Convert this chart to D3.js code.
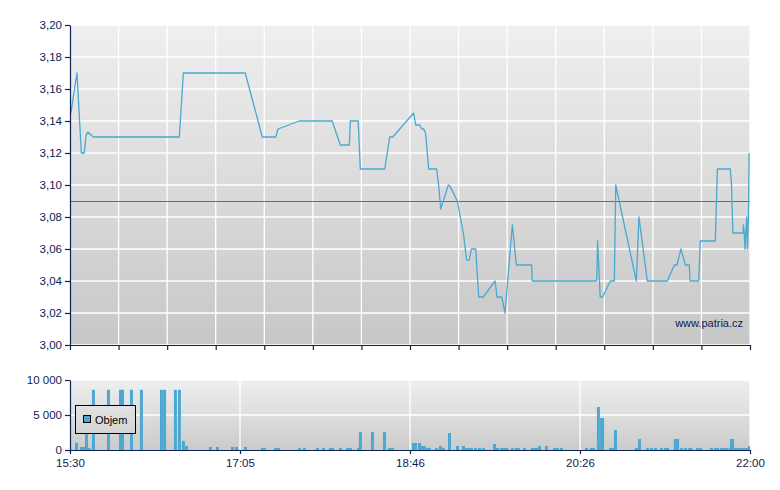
<!DOCTYPE html>
<html><head><meta charset="utf-8">
<script src="https://cdn.jsdelivr.net/npm/d3@7"></script>
<style>
body{margin:0;background:#fff}
svg{display:block;font-family:"Liberation Sans",Arial,sans-serif}
</style>
</head><body><div id="chart"></div>
<script>
// ---- data (time in minutes after 15:30) ----
const priceMinutes = [0.5,4,6.5,8.2,9.2,10.3,13.4,62.7,65,100.5,110.3,118,119.3,131.5,150.4,155,160.2,160.8,165.3,166.5,180.5,183.4,185.1,197.1,198.3,200.6,201.7,202.9,204,205.7,210.3,211.5,212.6,217,218.1,222.1,225.6,227.5,229,230.2,232.7,234.4,237,243.8,244.9,247.6,249.5,253.7,256,264.8,265.1,302.1,302.6,304.1,305.5,309.9,312.2,313,324.8,326.3,331.1,342.6,346.6,348.1,350.4,352.9,355.2,355.6,360.6,361.5,370.1,371.3,378.7,379.4,380.2,386,386.2,386.7,387.1,388.1,388.5,389.1,389.5];
const priceValues = [3.145,3.17,3.12,3.12,3.131,3.133,3.13,3.13,3.17,3.17,3.13,3.13,3.135,3.14,3.14,3.125,3.125,3.14,3.14,3.11,3.11,3.13,3.13,3.145,3.1375,3.1375,3.135,3.135,3.132,3.11,3.11,3.099,3.085,3.10,3.099,3.09,3.07,3.053,3.053,3.06,3.06,3.03,3.03,3.04,3.03,3.03,3.02,3.075,3.05,3.05,3.04,3.04,3.065,3.03,3.03,3.04,3.04,3.10,3.04,3.08,3.04,3.04,3.05,3.05,3.06,3.05,3.05,3.04,3.04,3.065,3.065,3.11,3.11,3.10,3.07,3.07,3.075,3.07,3.06,3.08,3.06,3.08,3.12];
const refPrice = 3.09;

const volumeMinutes = [2.9,5.7,6.9,8.6,10.1,12.6,21.2,28.1,29.3,34.4,40.1,51.6,53.4,59.6,61.9,64.2,66,79.7,83.7,92.3,94.6,99.8,
 109.5,110.7,117,118.7,130.8,133.6,141.1,144.5,148.5,149.7,154.3,158.3,160,164.6,165.7,172.6,179.5,182.4,184.1,196.1,197.3,199.6,201.3,202.4,204.2,205.3,
 209.3,211.6,213.3,216.8,221.4,224.8,226.5,228.2,229.4,231.7,234,236.3,242.6,244.3,246.6,248.3,249.6,252.9,255.2,256.3,259.8,264.4,266.1,267.2,268.4,272.4,277,278.7,281,295.4,
 298.2,299.5,302.2,304,304.6,309.1,310.3,312,324,325.8,330.3,332.6,334.9,338.4,340.7,341.8,346.3,347.6,349.9,352.2,354.5,355.3,359.1,360.9,367,369.3,370.6,372.9,374.6,375.8,377.9,378.5,379.1,380.8,382.5,384.2,385.9,387.2,388.9];
const volumeValues = [1050,430,430,3290,290,8600,8600,8600,8600,8600,8600,8600,8600,8600,8600,1290,570,430,430,430,430,430,
 290,290,290,290,290,290,290,290,290,290,290,290,290,290,2570,2570,2570,290,290,1000,1000,1000,570,570,290,290,
 290,570,290,2430,570,570,290,290,290,290,290,290,860,290,290,290,290,290,290,290,290,290,290,290,570,570,290,290,290,290,
 290,290,6140,4570,4570,290,290,2860,290,1570,290,290,290,290,290,290,1570,1570,290,290,290,290,290,290,290,290,290,290,290,290,290,1570,1570,290,290,290,290,290,570];

const priceTicks = [3.00,3.02,3.04,3.06,3.08,3.10,3.12,3.14,3.16,3.18,3.20];
const volumeTicks = [0,5000,10000];
const volumeTickLabels = ["0","5 000","10 000"];
const timeLabels = ["15:30","17:05","18:46","20:26","22:00"];
const sessionMinutes = 390;
const gridDivisions = 14;

// ---- layout ----
const W = 780, H = 490;
const L = 70, R = 750;
const mainTop = 25, mainBot = 345;
const volTop = 380, volBot = 450;
const navy = "#0d2354";
const blue = "#4aa8d1";

const svg = d3.select("#chart").append("svg").attr("width", W).attr("height", H);
const defs = svg.append("defs");
function grad(id, y1, y2, c1, c2) {
  const g = defs.append("linearGradient").attr("id", id).attr("gradientUnits", "userSpaceOnUse")
    .attr("x1", 0).attr("x2", 0).attr("y1", y1).attr("y2", y2);
  g.append("stop").attr("offset", 0).attr("stop-color", c1);
  g.append("stop").attr("offset", 1).attr("stop-color", c2);
}
grad("gMain", mainTop, mainBot, "#efefef", "#c7c7c7");
grad("gVol", volTop, volBot, "#efefef", "#cbcbcb");
defs.append("clipPath").attr("id", "clipMain").append("rect").attr("x", L).attr("y", mainTop).attr("width", R - L).attr("height", mainBot - mainTop);
defs.append("clipPath").attr("id", "clipVol").append("rect").attr("x", L).attr("y", volTop).attr("width", R - L).attr("height", volBot - volTop);

const x = d3.scaleLinear().domain([0, sessionMinutes]).range([L, R]);
const y = d3.scaleLinear().domain([3.00, 3.20]).range([mainBot, mainTop]);
const yv = d3.scaleLinear().domain([0, 10000]).range([volBot, volTop]);

// ---- main panel ----
svg.append("rect").attr("x", L).attr("y", mainTop).attr("width", R - L).attr("height", mainBot - mainTop).attr("fill", "url(#gMain)");
const gridMinutes = d3.range(gridDivisions + 1).map(i => i * sessionMinutes / gridDivisions);
svg.append("g").selectAll("line").data(priceTicks).join("line")
  .attr("x1", L).attr("x2", R).attr("y1", d => y(d)).attr("y2", d => y(d))
  .attr("stroke", "#fff").attr("stroke-width", 1.3);
svg.append("g").selectAll("line").data(gridMinutes.slice(1)).join("line")
  .attr("x1", d => x(d)).attr("x2", d => x(d)).attr("y1", mainTop).attr("y2", mainBot)
  .attr("stroke", "#fff").attr("stroke-width", 1.3);

svg.append("line").attr("x1", L).attr("x2", R).attr("y1", y(refPrice) + 0.5).attr("y2", y(refPrice) + 0.5)
  .attr("stroke", "#dc3a34").attr("stroke-width", 1);

const pts = priceMinutes.map((m, i) => [m, priceValues[i]]);
svg.append("path").datum(pts).attr("clip-path", "url(#clipMain)")
  .attr("fill", "none").attr("stroke", blue).attr("stroke-width", 1.3).attr("stroke-linejoin", "round")
  .attr("d", d3.line().x(d => x(d[0])).y(d => y(d[1])));

svg.append("text").attr("x", 743).attr("y", 327).attr("text-anchor", "end")
  .attr("font-size", 11).attr("fill", navy).text("www.patria.cz");

svg.append("g").attr("transform", `translate(${L},0)`)
  .call(d3.axisLeft(y).tickValues(priceTicks).tickSize(5).tickSizeOuter(0).tickPadding(3)
    .tickFormat(d => d3.format(".2f")(d).replace(".", ",")));
svg.append("g").attr("transform", `translate(0,${mainBot})`)
  .call(d3.axisBottom(x).tickValues(gridMinutes).tickSize(5).tickSizeOuter(0).tickFormat(""));

// ---- volume panel ----
svg.append("rect").attr("x", L).attr("y", volTop).attr("width", R - L).attr("height", volBot - volTop).attr("fill", "url(#gVol)");
const labelMinutes = timeLabels.map((t, i) => i * sessionMinutes / (timeLabels.length - 1));
svg.append("g").selectAll("line").data(volumeTicks.slice(1)).join("line")
  .attr("x1", L).attr("x2", R).attr("y1", d => yv(d)).attr("y2", d => yv(d))
  .attr("stroke", "#fff").attr("stroke-width", 1.3);
svg.append("g").selectAll("line").data(labelMinutes.slice(1)).join("line")
  .attr("x1", d => x(d)).attr("x2", d => x(d)).attr("y1", volTop).attr("y2", volBot)
  .attr("stroke", "#fff").attr("stroke-width", 1.3);

const barDur = 1.7;
const vols = volumeMinutes.map((m, i) => [m, volumeValues[i]]);
svg.append("g").attr("clip-path", "url(#clipVol)").selectAll("rect").data(vols).join("rect")
  .attr("x", d => x(d[0]))
  .attr("width", d => Math.max(1, x(Math.min(sessionMinutes, d[0] + barDur)) - x(d[0])))
  .attr("y", d => yv(d[1])).attr("height", d => yv(0) - yv(d[1]))
  .attr("fill", blue);

// legend (covers bars, shows background)
svg.append("rect").attr("x", 75.5).attr("y", 405.5).attr("width", 60).attr("height", 28)
  .attr("fill", "url(#gVol)").attr("stroke", "#000").attr("stroke-width", 1);
svg.append("rect").attr("x", 83.5).attr("y", 415.5).attr("width", 7).attr("height", 7)
  .attr("fill", blue).attr("stroke", "#000").attr("stroke-width", 1);
svg.append("text").attr("x", 95).attr("y", 424).attr("font-size", 11).attr("fill", "#000").text("Objem");

svg.append("g").attr("transform", `translate(${L},0)`)
  .call(d3.axisLeft(yv).tickValues(volumeTicks).tickSize(5).tickSizeOuter(0).tickPadding(3)
    .tickFormat((d, i) => volumeTickLabels[i]));
svg.append("g").attr("transform", `translate(0,${volBot})`)
  .call(d3.axisBottom(x).tickValues(labelMinutes).tickSize(4).tickSizeOuter(0).tickPadding(5)
    .tickFormat((d, i) => timeLabels[i]));

// style axes
svg.selectAll(".domain").attr("stroke", navy).attr("stroke-width", 1.2);
svg.selectAll(".tick line").attr("stroke", navy).attr("stroke-width", 1.2);
svg.selectAll(".tick text").attr("fill", navy).attr("font-size", 11.5).attr("font-family", '"Liberation Sans",Arial,sans-serif');
</script>
</body></html>
